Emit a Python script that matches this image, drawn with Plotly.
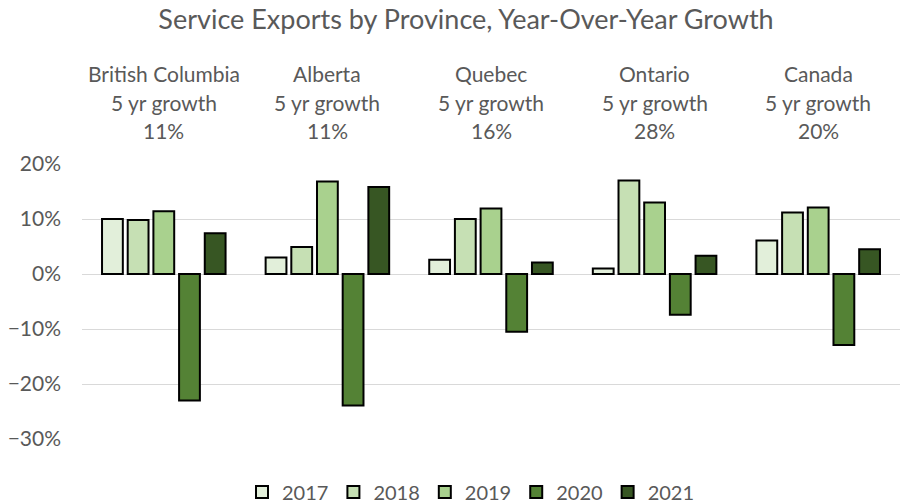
import plotly.graph_objects as go

# Regions and their five-year growth
regions = ["British Columbia", "Alberta", "Quebec", "Ontario", "Canada"]
five_yr_growth = ["11%", "11%", "16%", "28%", "20%"]

# Year-over-year growth of service exports (fraction)
years = ["2017", "2018", "2019", "2020", "2021"]
growth_2017 = [0.100, 0.030, 0.026, 0.010, 0.061]
growth_2018 = [0.098, 0.049, 0.100, 0.170, 0.112]
growth_2019 = [0.114, 0.168, 0.119, 0.130, 0.121]
growth_2020 = [-0.230, -0.239, -0.105, -0.074, -0.129]
growth_2021 = [0.074, 0.158, 0.021, 0.033, 0.045]

series = [growth_2017, growth_2018, growth_2019, growth_2020, growth_2021]
colors = ["#E2EFDA", "#C6E0B4", "#A9D18E", "#548235", "#375623"]

FONT = "Lato, 'Liberation Sans', sans-serif"
GREY = "#595959"
W, H = 901, 503
PLOT_LEFT, PLOT_RIGHT = 82, 900
PLOT_TOP, PLOT_BOTTOM = 164, 439
PLOT_W = PLOT_RIGHT - PLOT_LEFT
PLOT_H = PLOT_BOTTOM - PLOT_TOP


def paper_y(px):
    """Convert a pixel row of the page to a paper-y coordinate."""
    return (PLOT_BOTTOM - px) / PLOT_H


def paper_x(px):
    """Convert a pixel column of the page to a paper-x coordinate."""
    return (px - PLOT_LEFT) / PLOT_W


fig = go.Figure()
for yr, vals, col in zip(years, series, colors):
    fig.add_trace(go.Bar(
        x=regions, y=vals, name=yr,
        marker=dict(color=col, line=dict(color="#000000", width=2)),
    ))

# Three-line heading above each region group
for reg, g in zip(regions, five_yr_growth):
    for txt, yp in ((reg, 74), ("5 yr growth", 103), (g, 131)):
        fig.add_annotation(
            x=reg, xref="x", y=paper_y(yp), yref="paper",
            text=txt, showarrow=False,
            font=dict(family=FONT, size=21, color=GREY),
            xanchor="center", yanchor="middle",
        )

fig.update_layout(
    width=W, height=H,
    margin=dict(l=PLOT_LEFT, r=W - PLOT_RIGHT, t=PLOT_TOP, b=H - PLOT_BOTTOM,
                autoexpand=False),
    paper_bgcolor="white", plot_bgcolor="white",
    title=dict(
        text="Service Exports by Province, Year-Over-Year Growth",
        x=466 / W, xanchor="center", y=1 - 20 / H, yanchor="middle",
        font=dict(family=FONT, size=27, color=GREY),
    ),
    barmode="group", bargap=0.215, bargroupgap=0.19,
    showlegend=True,
    legend=dict(
        orientation="h", x=paper_x(471), xanchor="center",
        y=paper_y(492), yanchor="middle",
        font=dict(family=FONT, size=20, color=GREY),
        itemwidth=30, traceorder="normal",
    ),
    font=dict(family=FONT, color=GREY),
)

fig.update_xaxes(showticklabels=False, showgrid=False, zeroline=False,
                 showline=False, ticks="")
fig.update_yaxes(
    range=[-0.3, 0.2], dtick=0.1, tickformat=".0%",
    showgrid=True, gridcolor="#D9D9D9", gridwidth=1,
    zeroline=True, zerolinecolor="#D9D9D9", zerolinewidth=1,
    showline=False, ticks="", ticklabelstandoff=20,
    tickfont=dict(family=FONT, size=21, color=GREY),
)

fig.write_html("out.html")
